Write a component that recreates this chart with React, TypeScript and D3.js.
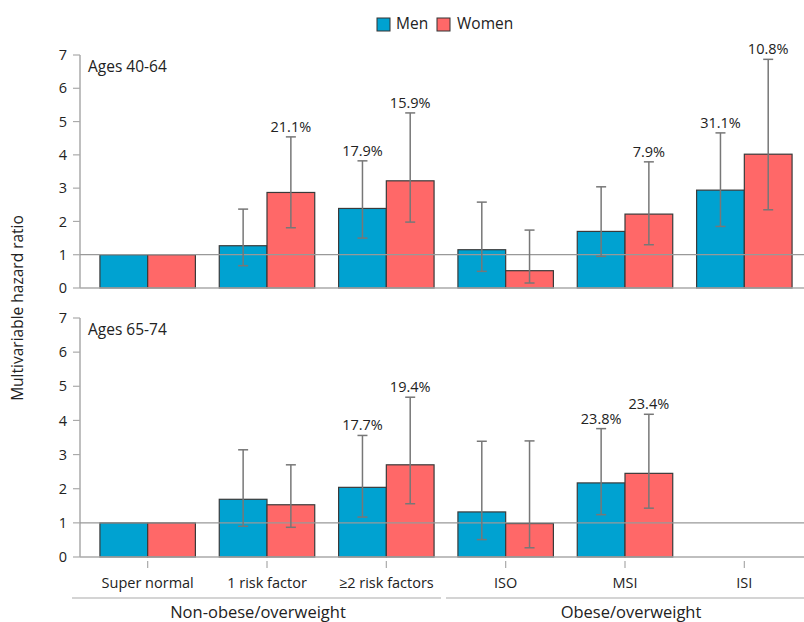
import React from "react";
import * as d3 from "d3";

const categories = ["Super normal", "1 risk factor", "≥2 risk factors", "ISO", "MSI", "ISI"];
const series = ["Men", "Women"];
const colors = ["#00A2D1", "#FF6868"];

// Ages 40-64
const topMen = [1, 1.27, 2.39, 1.15, 1.70, 2.94];
const topMenLo = [null, 0.67, 1.5, 0.5, 0.95, 1.85];
const topMenHi = [null, 2.37, 3.82, 2.58, 3.04, 4.66];
const topMenLabel = ["", "", "17.9%", "", "", "31.1%"];
const topWomen = [1, 2.87, 3.22, 0.52, 2.22, 4.02];
const topWomenLo = [null, 1.81, 1.98, 0.15, 1.3, 2.35];
const topWomenHi = [null, 4.54, 5.26, 1.74, 3.79, 6.87];
const topWomenLabel = ["", "21.1%", "15.9%", "", "7.9%", "10.8%"];

// Ages 65-74
const botMen = [1, 1.69, 2.04, 1.32, 2.17, null];
const botMenLo = [null, 0.9, 1.17, 0.51, 1.24, null];
const botMenHi = [null, 3.14, 3.56, 3.39, 3.76, null];
const botMenLabel = ["", "", "17.7%", "", "23.8%", ""];
const botWomen = [1, 1.53, 2.7, 0.98, 2.45, null];
const botWomenLo = [null, 0.87, 1.56, 0.27, 1.43, null];
const botWomenHi = [null, 2.7, 4.68, 3.4, 4.18, null];
const botWomenLabel = ["", "", "19.4%", "", "23.4%", ""];

const yTicks = [0, 1, 2, 3, 4, 5, 6, 7];
const groups = [
  { name: "Non-obese/overweight", from: 0, to: 2 },
  { name: "Obese/overweight", from: 3, to: 5 },
];

const panels = [
  {
    title: "Ages 40-64",
    y0: 288, y1: 55,
    data: [
      { v: topMen, lo: topMenLo, hi: topMenHi, lab: topMenLabel },
      { v: topWomen, lo: topWomenLo, hi: topWomenHi, lab: topWomenLabel },
    ],
  },
  {
    title: "Ages 65-74",
    y0: 557, y1: 318,
    data: [
      { v: botMen, lo: botMenLo, hi: botMenHi, lab: botMenLabel },
      { v: botWomen, lo: botWomenLo, hi: botWomenHi, lab: botWomenLabel },
    ],
  },
];

const FONT = "'Open Sans', sans-serif";
const TXT = "#222";
const AXIS = "#aaa";

export default function App() {
  const W = 804, H = 622;
  const axisX = 80;
  const x = d3.scaleBand<string>().domain(categories).range([88, 804]).paddingInner(0.2).paddingOuter(0.1);
  const xs = d3.scaleBand<string>().domain(series).range([0, x.bandwidth()]);
  return (
    <svg width={W} height={H} style={{ position: "absolute", left: 0, top: 0, background: "#fff" }} fontFamily={FONT}>
      {/* legend */}
      <g>
        <rect x={377} y={18} width={13} height={13} fill={colors[0]} stroke="#333" strokeWidth={1} />
        <text x={396} y={29} fontSize={15.5} fill={TXT}>Men</text>
        <rect x={437} y={18} width={13} height={13} fill={colors[1]} stroke="#333" strokeWidth={1} />
        <text x={457} y={29} fontSize={15.5} fill={TXT}>Women</text>
      </g>
      <text transform={`translate(23,308) rotate(-90)`} textAnchor="middle" fontSize={15.5} fill={TXT}>
        Multivariable hazard ratio
      </text>
      {panels.map((p, pi) => {
        const y = d3.scaleLinear().domain([0, 7]).range([p.y0, p.y1]);
        return (
          <g key={pi}>
            <line x1={axisX} x2={axisX} y1={y(7)} y2={y(0)} stroke={AXIS} strokeWidth={1.5} />
            {yTicks.map((t) => (
              <g key={t}>
                <line x1={axisX - 7} x2={axisX} y1={y(t)} y2={y(t)} stroke={AXIS} strokeWidth={1.2} />
                <text x={axisX - 13} y={y(t)} dy="0.35em" textAnchor="end" fontSize={14.5} fill={TXT}>{t}</text>
              </g>
            ))}
            <text x={88} y={y(7) + 17} fontSize={15.5} fill={TXT}>{p.title}</text>
            {p.data.map((s, si) =>
              categories.map((c, ci) => {
                const v = s.v[ci];
                if (v == null) return null;
                const bx = (x(c) as number) + (xs(series[si]) as number);
                const bw = xs.bandwidth();
                return (
                  <rect key={`${si}-${ci}`} x={bx} y={y(v)} width={bw} height={y(0) - y(v)}
                    fill={colors[si]} stroke="#3a3a3a" strokeWidth={1.2} />
                );
              })
            )}
            <line x1={axisX} x2={W} y1={y(1)} y2={y(1)} stroke="#999" strokeWidth={1.3} />
            <line x1={axisX} x2={W} y1={y(0)} y2={y(0)} stroke={AXIS} strokeWidth={1.5} />
            {p.data.map((s, si) =>
              categories.map((c, ci) => {
                const lo = s.lo[ci], hi = s.hi[ci];
                const cx = (x(c) as number) + (xs(series[si]) as number) + xs.bandwidth() / 2;
                return (
                  <g key={`e${si}-${ci}`}>
                    {lo != null && hi != null && (
                      <g stroke="#777" strokeWidth={1.5}>
                        <line x1={cx} x2={cx} y1={y(hi)} y2={y(lo)} />
                        <line x1={cx - 5} x2={cx + 5} y1={y(hi)} y2={y(hi)} />
                        <line x1={cx - 5} x2={cx + 5} y1={y(lo)} y2={y(lo)} />
                      </g>
                    )}
                    {s.lab[ci] && hi != null && (
                      <text x={cx} y={y(hi) - 5} textAnchor="middle" fontSize={14.5} fill={TXT}>{s.lab[ci]}</text>
                    )}
                  </g>
                );
              })
            )}
            {pi === 1 && categories.map((c) => {
              const cx = (x(c) as number) + x.bandwidth() / 2;
              return (
                <g key={c}>
                  <line x1={cx} x2={cx} y1={y(0) + 4} y2={y(0) + 11} stroke={AXIS} strokeWidth={1.2} />
                  <text x={cx} y={y(0) + 31} textAnchor="middle" fontSize={14.5} fill={TXT}>{c}</text>
                </g>
              );
            })}
          </g>
        );
      })}
      {groups.map((g, gi) => {
        const xa = gi === 0 ? 72 : 446;
        const xb = gi === 0 ? 441 : W;
        const cx = gi === 0 ? 258 : 631;
        return (
          <g key={g.name}>
            <line x1={xa} x2={xb} y1={598} y2={598} stroke={AXIS} strokeWidth={1.2} />
            <text x={cx} y={618} textAnchor="middle" fontSize={16.5} fill={TXT}>{g.name}</text>
          </g>
        );
      })}
    </svg>
  );
}
